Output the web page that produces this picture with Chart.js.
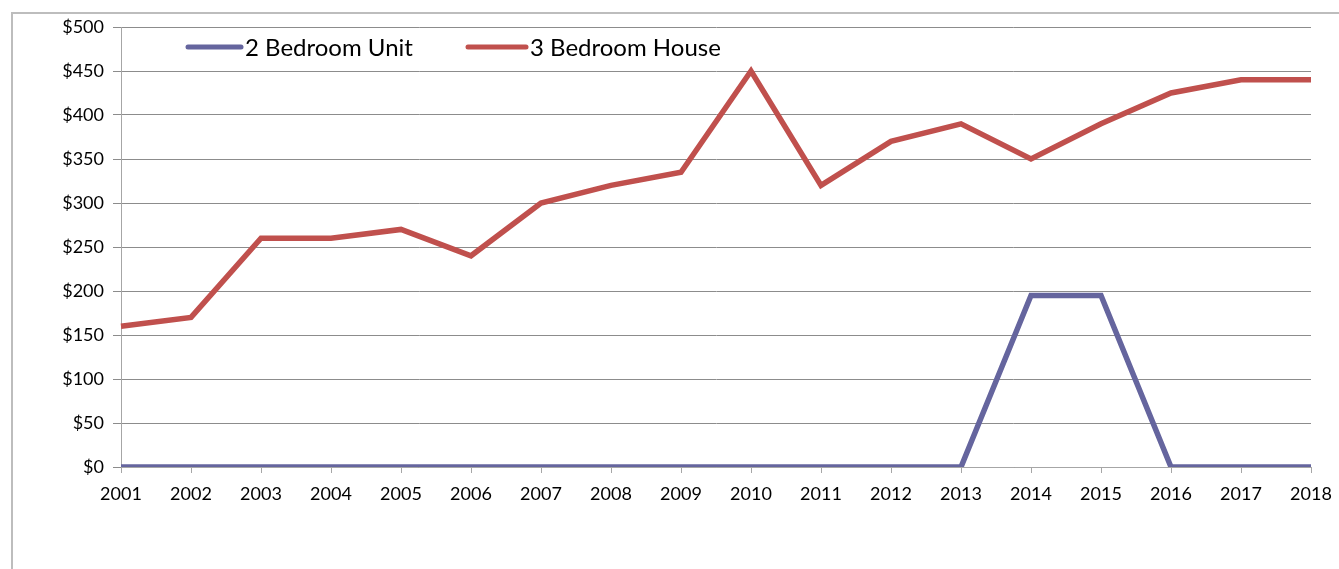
<!DOCTYPE html>
<html>
<head>
<meta charset="utf-8">
<script src="https://cdn.jsdelivr.net/npm/chart.js@4/dist/chart.umd.min.js"></script>
<style>
  html, body { margin: 0; padding: 0; background: #fff; }
  #wrap { position: relative; width: 1339px; height: 569px; }
  #frame { position: absolute; left: 11px; top: 12px; right: 0; bottom: 0;
           border-left: 2px solid #bdbdbd; border-top: 2px solid #bdbdbd; }
  canvas { position: absolute; left: 0; top: 0; }
</style>
</head>
<body>
<div id="wrap">
  <div id="frame"></div>
  <canvas id="chart" width="1339" height="569"></canvas>
</div>
<script>
//years along the bottom
const years = ["2001","2002","2003","2004","2005","2006","2007","2008","2009",
               "2010","2011","2012","2013","2014","2015","2016","2017","2018"];

//weekly rent
const unit2Bed  = [0,0,0,0,0,0,0,0,0,0,0,0,0,195,195,0,0,0];
const house3Bed = [160,170,260,260,270,240,300,320,335,450,320,370,390,350,390,425,440,440];

const seriesNames = ["2 Bedroom Unit", "3 Bedroom House"];
const seriesColours = ["#65659e", "#c0504d"];

const FONT = "Lato, 'Open Sans', sans-serif";
const gridGrey = "#8c8c8c";

//draws the legend inside the plot, up in the top left like excel does
const insideLegend = {
  id: "insideLegend",
  afterDraw(chart) {
    const ctx = chart.ctx;
    const y = 47;
    const items = [
      { x1: 188, x2: 241, tx: 245 },
      { x1: 468, x2: 526, tx: 530 },
    ];
    ctx.save();
    ctx.font = "24px " + FONT;
    ctx.textBaseline = "middle";
    ctx.lineCap = "round";
    chart.data.datasets.forEach((ds, i) => {
      const it = items[i];
      ctx.strokeStyle = ds.borderColor;
      ctx.lineWidth = 5;
      ctx.beginPath();
      ctx.moveTo(it.x1, y);
      ctx.lineTo(it.x2, y);
      ctx.stroke();
      ctx.fillStyle = "#000";
      ctx.fillText(ds.label, it.tx, y + 1);
    });
    ctx.restore();
  }
};

new Chart(document.getElementById("chart").getContext("2d"), {
  type: "line",
  data: {
    labels: years,
    datasets: [
      { label: seriesNames[0], data: unit2Bed, borderColor: seriesColours[0] },
      { label: seriesNames[1], data: house3Bed, borderColor: seriesColours[1] },
    ].map(d => Object.assign(d, {
      borderWidth: 5.5, pointRadius: 0, tension: 0, fill: false,
      borderJoinStyle: "miter", borderCapStyle: "butt",
    }))
  },
  options: {
    responsive: false,
    animation: false,
    layout: { padding: { left: 0, right: 28, top: 27, bottom: 0 } },
    plugins: { legend: { display: false }, tooltip: { enabled: false } },
    scales: {
      x: {
        offset: false,
        grid: { color: "transparent", tickColor: "#a6a6a6", tickLength: 6, drawOnChartArea: false },
        border: { color: "#a6a6a6", width: 1 },
        ticks: { color: "#000", font: { family: FONT, size: 18 }, padding: 10, maxRotation: 0, autoSkip: false },
        afterFit(s) { s.height = 102; s.paddingLeft = 0; s.paddingRight = 0; }
      },
      y: {
        min: 0, max: 500,
        grid: { color: gridGrey, tickColor: gridGrey, tickLength: 8 },
        border: { color: "#a6a6a6", width: 1 },
        ticks: {
          stepSize: 50, color: "#000", font: { family: FONT, size: 18 }, padding: 9,
          callback: v => "$" + v
        },
        afterFit(s) { s.width = 121; }
      }
    }
  },
  plugins: [insideLegend]
});
</script>
</body>
</html>
